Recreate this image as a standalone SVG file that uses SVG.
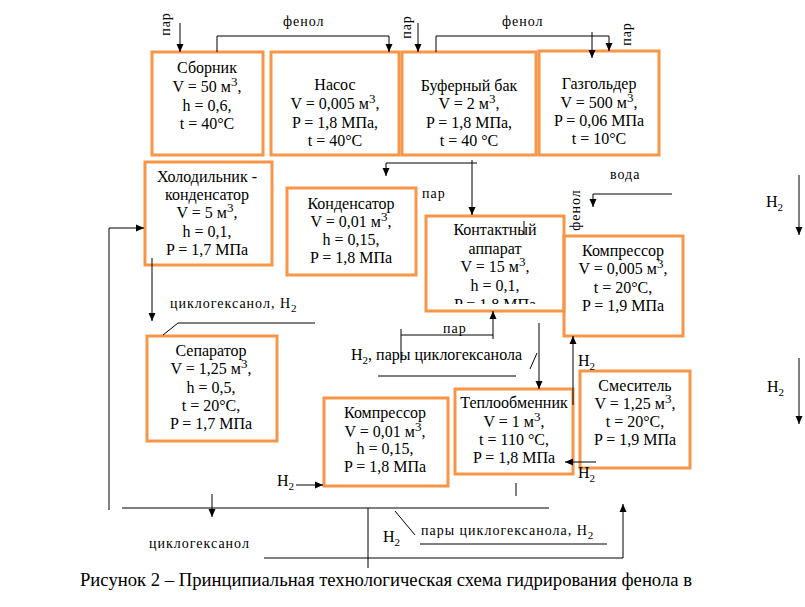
<svg xmlns="http://www.w3.org/2000/svg" width="805" height="607" viewBox="0 0 805 607">
<style>
.b{fill:none;stroke:#F79646;stroke-width:3}
.t{font-family:"Liberation Serif","Times New Roman",serif;font-size:16px;text-anchor:middle;fill:#000}
.s{font-family:"Liberation Serif","Times New Roman",serif;font-size:14px;letter-spacing:1px;fill:#000}
.h{font-family:"Liberation Serif","Times New Roman",serif;font-size:16px;fill:#000}
.c{font-family:"Liberation Serif","Times New Roman",serif;font-size:19px;fill:#000}
.l{fill:none;stroke:#000;stroke-width:1}
.a{fill:none;stroke:#000;stroke-width:1;marker-end:url(#ar)}
</style>
<defs>
<marker id="ar" markerWidth="8" markerHeight="8" refX="8" refY="4" orient="auto" markerUnits="userSpaceOnUse">
<path d="M0,0.5 L8,4 L0,7.5 z" fill="#000"/>
</marker>
<clipPath id="kc"><rect x="426" y="216" width="138" height="88"/></clipPath>
</defs>

<g id="sbornik">
<rect class="b" x="152" y="52" width="111" height="103"/>
<text class="t" x="207" y="73">Сборник</text>
<text class="t" x="207" y="92">V = 50 м<tspan font-size="13" dy="-6">3</tspan><tspan dy="6">,</tspan></text>
<text class="t" x="207" y="111">h = 0,6,</text>
<text class="t" x="207" y="129">t = 40°C</text>
</g>
<g id="nasos">
<rect class="b" x="271" y="52" width="128" height="103"/>
<text class="t" x="335" y="90">Насос</text>
<text class="t" x="335" y="109">V = 0,005 м<tspan font-size="13" dy="-6">3</tspan><tspan dy="6">,</tspan></text>
<text class="t" x="335" y="128">P = 1,8 МПа,</text>
<text class="t" x="335" y="146">t = 40°C</text>
</g>
<g id="bufer">
<rect class="b" x="402" y="52" width="134" height="103"/>
<text class="t" x="469" y="91">Буферный бак</text>
<text class="t" x="469" y="109">V = 2 м<tspan font-size="13" dy="-6">3</tspan><tspan dy="6">,</tspan></text>
<text class="t" x="469" y="128">P = 1,8 МПа,</text>
<text class="t" x="469" y="146">t = 40 °C</text>
</g>
<g id="gazgolder">
<rect class="b" x="539" y="51" width="120" height="104"/>
<text class="t" x="599" y="89">Газгольдер</text>
<text class="t" x="599" y="108">V = 500 м<tspan font-size="13" dy="-6">3</tspan><tspan dy="6">,</tspan></text>
<text class="t" x="599" y="126">P = 0,06 МПа</text>
<text class="t" x="599" y="144">t = 10°C</text>
</g>
<g id="holodilnik">
<rect class="b" x="145" y="162" width="127" height="103"/>
<text class="t" x="207" y="182">Холодильник -</text>
<text class="t" x="207" y="200">конденсатор</text>
<text class="t" x="207" y="218">V = 5 м<tspan font-size="13" dy="-6">3</tspan><tspan dy="6">,</tspan></text>
<text class="t" x="207" y="237">h = 0,1,</text>
<text class="t" x="207" y="255">P = 1,7 МПа</text>
</g>
<g id="kondensator">
<rect class="b" x="287" y="188" width="129" height="87"/>
<text class="t" x="351" y="209">Конденсатор</text>
<text class="t" x="351" y="227">V = 0,01 м<tspan font-size="13" dy="-6">3</tspan><tspan dy="6">,</tspan></text>
<text class="t" x="351" y="245">h = 0,15,</text>
<text class="t" x="351" y="263">P = 1,8 МПа</text>
</g>
<g id="kontaktny">
<rect class="b" x="426" y="216" width="138" height="95"/>
<g clip-path="url(#kc)">
<text class="t" x="495" y="235">Контактный</text>
<text class="t" x="495" y="254">аппарат</text>
<text class="t" x="495" y="272">V = 15 м<tspan font-size="13" dy="-6">3</tspan><tspan dy="6">,</tspan></text>
<text class="t" x="495" y="291">h = 0,1,</text>
<text class="t" x="495" y="310">P = 1,8 МПа</text>
</g>
</g>
<g id="kompressor1">
<rect class="b" x="564" y="236" width="119" height="100"/>
<text class="t" x="623" y="256">Компрессор</text>
<text class="t" x="623" y="274">V = 0,005 м<tspan font-size="13" dy="-6">3</tspan><tspan dy="6">,</tspan></text>
<text class="t" x="623" y="293">t = 20°C,</text>
<text class="t" x="623" y="311">P = 1,9 МПа</text>
</g>
<g id="separator">
<rect class="b" x="147" y="336" width="130" height="105"/>
<text class="t" x="211" y="356">Сепаратор</text>
<text class="t" x="211" y="374">V = 1,25 м<tspan font-size="13" dy="-6">3</tspan><tspan dy="6">,</tspan></text>
<text class="t" x="211" y="393">h = 0,5,</text>
<text class="t" x="211" y="411">t = 20°C,</text>
<text class="t" x="211" y="429">P = 1,7 МПа</text>
</g>
<g id="kompressor2">
<rect class="b" x="324" y="398" width="124" height="88"/>
<text class="t" x="385" y="418">Компрессор</text>
<text class="t" x="385" y="437">V = 0,01 м<tspan font-size="13" dy="-6">3</tspan><tspan dy="6">,</tspan></text>
<text class="t" x="385" y="454">h = 0,15,</text>
<text class="t" x="385" y="472">P = 1,8 МПа</text>
</g>
<g id="teploobmennik">
<rect class="b" x="455" y="389" width="118" height="85"/>
<text class="t" x="514" y="408">Теплообменник</text>
<text class="t" x="514" y="427">V = 1 м<tspan font-size="13" dy="-6">3</tspan><tspan dy="6">,</tspan></text>
<text class="t" x="514" y="445">t = 110 °C,</text>
<text class="t" x="514" y="463">P = 1,8 МПа</text>
</g>
<g id="smesitel">
<rect class="b" x="580" y="371" width="110" height="97"/>
<text class="t" x="635" y="391">Смеситель</text>
<text class="t" x="635" y="409">V = 1,25 м<tspan font-size="13" dy="-6">3</tspan><tspan dy="6">,</tspan></text>
<text class="t" x="635" y="427">t = 20°C,</text>
<text class="t" x="635" y="445">P = 1,9 МПа</text>
</g>

<g id="connectors">
<path class="a" d="M180,23 V52"/>
<path class="a" d="M217,52 V36 H389 V52"/>
<path class="a" d="M418,23 V52"/>
<path class="a" d="M436,52 V36 H609 V51"/>
<path class="a" d="M592,32 V58"/>
<path class="l" d="M386,163 H477"/>
<path class="a" d="M386,163 V176"/>
<path class="a" d="M472,160 V215"/>
<path class="l" d="M524,221 V235"/>
<path class="a" d="M672,194 H593 V207"/>
<path class="a" d="M799,175 V235"/>
<path class="a" d="M109,510 V228 H144"/>
<path class="a" d="M152,258 V321"/>
<path class="l" d="M163,335 L178,323 H315"/>
<path class="l" d="M401,363 V329 M401,335 H493"/>
<path class="a" d="M493,339 V311"/>
<path class="l" d="M378,376 H516"/>
<path class="l" d="M537,353 L530,369"/>
<path class="a" d="M539,323 V389"/>
<path class="a" d="M573,405 V336"/>
<path class="a" d="M596,462 H565"/>
<path class="a" d="M799,358 V424"/>
<path class="a" d="M296,485 H323"/>
<path class="l" d="M516,483 V496"/>
<path class="l" d="M122,508 H549"/>
<path class="a" d="M212,494 V517"/>
<path class="l" d="M368,508 V568"/>
<path class="l" d="M395,511 L415,535"/>
<path class="l" d="M420,544 H607"/>
<path class="a" d="M264,558 H623 V504"/>
</g>

<g id="labels">
<text class="s" transform="translate(170,24) rotate(-90)" text-anchor="middle">пар</text>
<text class="s" x="283" y="26">фенол</text>
<text class="s" transform="translate(411,27) rotate(-90)" text-anchor="middle">пар</text>
<text class="s" x="502" y="26">фенол</text>
<text class="s" transform="translate(631,34) rotate(-90)" text-anchor="middle">пар</text>
<text class="s" x="422" y="198">пар</text>
<text class="s" x="610" y="179">вода</text>
<text class="s" transform="translate(580,210) rotate(-90)" text-anchor="middle">фенол</text>
<text class="h" x="766" y="207">H<tspan font-size="11" dy="4">2</tspan></text>
<text class="s" x="170" y="308">циклогексанол, H<tspan font-size="11" dy="4">2</tspan></text>
<text class="s" x="443" y="333">пар</text>
<text class="h" x="351" y="360">H<tspan font-size="11" dy="4">2</tspan><tspan dy="-4">, пары циклогексанола</tspan></text>
<text class="h" x="578" y="366">H<tspan font-size="11" dy="4">2</tspan></text>
<text class="h" x="767" y="392">H<tspan font-size="11" dy="4">2</tspan></text>
<text class="h" x="578" y="478">H<tspan font-size="11" dy="4">2</tspan></text>
<text class="h" x="277" y="486">H<tspan font-size="11" dy="4">2</tspan></text>
<text class="s" x="421" y="535">пары циклогексанола, H<tspan font-size="11" dy="4">2</tspan></text>
<text class="h" x="383" y="542">H<tspan font-size="11" dy="4">2</tspan></text>
<text class="s" x="149" y="548">циклогексанол</text>
<text class="c" x="80" y="586" textLength="612" lengthAdjust="spacingAndGlyphs">Рисунок 2 – Принципиальная технологическая схема гидрирования фенола в</text>
</g>
</svg>
